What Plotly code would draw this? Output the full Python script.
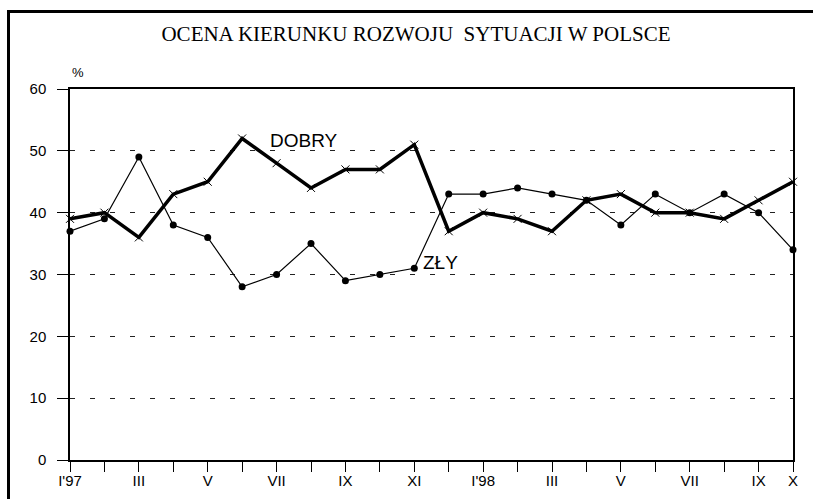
import plotly.graph_objects as go

# Month index 0..21 : I'97 .. X'98
months = ["I'97", "", "III", "", "V", "", "VII", "", "IX", "", "XI", "",
          "I'98", "", "III", "", "V", "", "VII", "", "IX", "X"]
dobry = [39, 40, 36, 43, 45, 52, 48, 44, 47, 47, 51,
         37, 40, 39, 37, 42, 43, 40, 40, 39, 42, 45]
zly = [37, 39, 49, 38, 36, 28, 30, 35, 29, 30, 31,
       43, 43, 44, 43, 42, 38, 43, 40, 43, 40, 34]
x_idx = list(range(len(months)))

W, H = 813, 499
L, R, T, B = 70, 20, 89, 39
pw, ph = W - L - R, H - T - B

def px(xp):
    return (xp - L) / pw

def py(yp):
    return (H - B - yp) / ph

fig = go.Figure()
fig.add_trace(go.Scatter(
    x=x_idx, y=zly, mode="lines+markers", name="ZŁY",
    line=dict(color="black", width=1.2),
    marker=dict(symbol="circle", size=7, color="black"),
    cliponaxis=False,
))
fig.add_trace(go.Scatter(
    x=x_idx, y=dobry, mode="lines+markers", name="DOBRY",
    line=dict(color="black", width=3.5),
    marker=dict(symbol="x-thin", size=8, color="black",
                line=dict(color="black", width=1)),
    cliponaxis=False,
))

fig.add_annotation(x=5.75, y=51.6, text="DOBRY", showarrow=False,
                   xanchor="left", yanchor="middle",
                   font=dict(family="Liberation Sans, Arial", size=19, color="black"))
fig.add_annotation(x=10.2, y=32.0, text="ZŁY", showarrow=False,
                   xanchor="left", yanchor="middle",
                   font=dict(family="Liberation Sans, Arial", size=19, color="black"))
fig.add_annotation(xref="paper", yref="paper", x=px(78), y=py(73), text="%",
                   showarrow=False, xanchor="center", yanchor="middle",
                   font=dict(family="Liberation Sans, Arial", size=13, color="black"))

# outer thick frame (only top and left edges fall inside the picture)
fig.add_shape(type="line", xref="paper", yref="paper",
              x0=px(8.5), x1=px(813), y0=py(11.5), y1=py(11.5),
              line=dict(color="black", width=3), layer="above")
fig.add_shape(type="line", xref="paper", yref="paper",
              x0=px(8.5), x1=px(8.5), y0=py(10), y1=py(499),
              line=dict(color="black", width=3), layer="above")

fig.update_layout(
    width=W, height=H,
    margin=dict(l=L, r=R, t=T, b=B, autoexpand=False),
    paper_bgcolor="white", plot_bgcolor="white",
    showlegend=False,
    title=dict(text="OCENA KIERUNKU ROZWOJU  SYTUACJI W POLSCE",
               x=416 / W, xanchor="center", xref="container",
               y=1 - 34 / H, yanchor="middle", yref="container",
               font=dict(family="Liberation Serif, Times New Roman", size=21, color="black")),
    font=dict(family="Liberation Sans, Arial", size=15, color="black"),
)
fig.update_xaxes(
    range=[0, 21], tickmode="array", tickvals=x_idx, ticktext=months,
    showgrid=False, zeroline=False, automargin=False,
    showline=True, linecolor="black", linewidth=1.5, mirror=True,
    ticks="outside", ticklen=10, tickcolor="black", tickwidth=1,
    ticklabelstandoff=-4, tickfont=dict(size=15),
)
fig.update_yaxes(
    range=[0, 60], tickmode="array", tickvals=[0, 10, 20, 30, 40, 50, 60],
    showgrid=True, gridcolor="#222", gridwidth=1, griddash="5px,15px",
    zeroline=False, automargin=False,
    showline=True, linecolor="black", linewidth=1.5, mirror=True,
    ticks="outside", ticklen=11, tickcolor="black", tickwidth=1,
    ticklabelstandoff=8, tickfont=dict(size=15),
)

fig.write_html("out.html", config={"displayModeBar": False},
               post_script="document.body.style.margin='0px';document.body.style.overflow='hidden';")
